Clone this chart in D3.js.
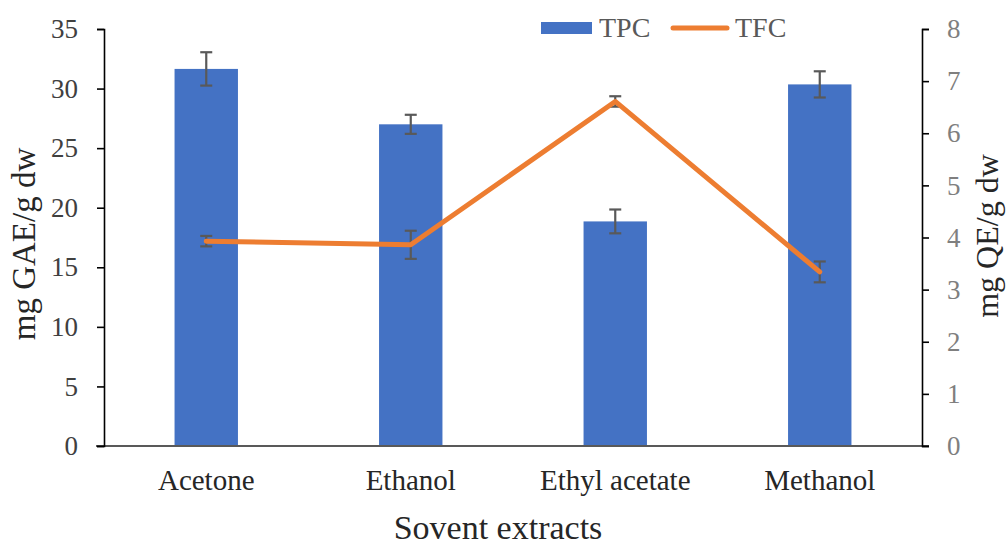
<!DOCTYPE html>
<html><head><meta charset="utf-8">
<script src="https://cdn.jsdelivr.net/npm/d3@7"></script>
<style>body{margin:0;background:#fff}svg text{font-family:"Liberation Serif","DejaVu Serif",serif !important}</style>
</head><body><svg id="c" width="1008" height="548" font-family="Liberation Serif"></svg>
<script>
const categories = ["Acetone","Ethanol","Ethyl acetate","Methanol"];
const tpc = [31.65, 27.0, 18.85, 30.35];
const tpcErr = [1.4, 0.8, 1.0, 1.1];
const tfc = [3.93, 3.86, 6.61, 3.34];
const tfcErr = [0.1, 0.27, 0.1, 0.2];
const leftTicks = [0,5,10,15,20,25,30,35];
const rightTicks = [0,1,2,3,4,5,6,7,8];

const FONT = "Liberation Serif";
const svg = d3.select("#c");
const L = 104, R = 922, T = 29, B = 446;
const x = d3.scaleBand().domain(categories).range([L, R]).paddingInner(0.69).paddingOuter(0.345);
const yL = d3.scaleLinear().domain([0,35]).range([B, T]);
const yR = d3.scaleLinear().domain([0,8]).range([B, T]);
const cx = d => x(d) + x.bandwidth()/2;

// bars
svg.append("g").selectAll("rect").data(categories).join("rect")
  .attr("x", d => x(d)).attr("width", x.bandwidth())
  .attr("y", (d,i) => yL(tpc[i])).attr("height", (d,i) => B - yL(tpc[i]))
  .attr("fill", "#4472c4");

function errBars(vals, errs, sc) {
  const g = svg.append("g").attr("stroke", "#595959").attr("stroke-width", 2.2);
  categories.forEach((c,i) => {
    const xc = cx(c), y1 = sc(vals[i]+errs[i]), y2 = sc(vals[i]-errs[i]);
    g.append("line").attr("x1",xc).attr("x2",xc).attr("y1",y1).attr("y2",y2);
    g.append("line").attr("x1",xc-6).attr("x2",xc+6).attr("y1",y1).attr("y2",y1);
    g.append("line").attr("x1",xc-6).attr("x2",xc+6).attr("y1",y2).attr("y2",y2);
  });
}
errBars(tpc, tpcErr, yL);

// baseline
svg.append("line").attr("x1", 96).attr("x2", 929).attr("y1", B).attr("y2", B)
  .attr("stroke", "#595959").attr("stroke-width", 2);

// left axis
const la = svg.append("g").attr("transform", `translate(${L},0)`)
  .call(d3.axisLeft(yL).tickValues(leftTicks).tickSize(7).tickPadding(19));
la.attr("font-family", FONT);
la.select(".domain").attr("stroke", "#000").attr("stroke-width", 1.6);
la.selectAll(".tick line").attr("stroke", "#000").attr("stroke-width", 1.6);
la.selectAll(".tick text").attr("font-size", 27).attr("fill", "#404040");

// right axis
const ra = svg.append("g").attr("transform", `translate(${R},0)`)
  .call(d3.axisRight(yR).tickValues(rightTicks).tickSize(7).tickPadding(18));
ra.attr("font-family", FONT);
ra.select(".domain").attr("stroke", "#000").attr("stroke-width", 1.6);
ra.selectAll(".tick line").attr("stroke", "#000").attr("stroke-width", 1.6);
ra.selectAll(".tick text").attr("font-size", 27).attr("fill", "#7f7f7f");

// TFC line
errBars(tfc, tfcErr, yR);
svg.append("path").datum(categories)
  .attr("d", d3.line().x(d => cx(d)).y((d,i) => yR(tfc[i])))
  .attr("fill", "none").attr("stroke", "#ed7d31").attr("stroke-width", 5)
  .attr("stroke-linejoin", "round").attr("stroke-linecap", "round");

// category labels
svg.append("g").selectAll("text").data(categories).join("text")
  .attr("font-family", FONT)
  .attr("x", d => cx(d)).attr("y", 490).attr("text-anchor", "middle")
  .attr("font-size", 29).attr("fill", "#262626").text(d => d);

// axis titles
svg.append("text").attr("font-family", FONT).attr("x", 498).attr("y", 539).attr("text-anchor", "middle")
  .attr("font-size", 34).attr("fill", "#262626").text("Sovent extracts");
svg.append("text").attr("font-family", FONT).attr("transform", "translate(35,244) rotate(-90)").attr("text-anchor", "middle")
  .attr("font-size", 33).attr("fill", "#262626").text("mg GAE/g dw");
svg.append("text").attr("font-family", FONT).attr("transform", "translate(998,236) rotate(-90)").attr("text-anchor", "middle")
  .attr("font-size", 32).attr("fill", "#262626").text("mg QE/g dw");

// legend
const lg = svg.append("g").attr("font-family", FONT);
lg.append("rect").attr("x", 541).attr("y", 22).attr("width", 51).attr("height", 12).attr("fill", "#4472c4");
lg.append("text").attr("x", 599).attr("y", 37).attr("font-size", 28).attr("fill", "#595959").text("TPC");
lg.append("line").attr("x1", 673).attr("x2", 727).attr("y1", 28).attr("y2", 28)
  .attr("stroke", "#ed7d31").attr("stroke-width", 5).attr("stroke-linecap", "round");
lg.append("text").attr("x", 735).attr("y", 37).attr("font-size", 28).attr("fill", "#595959").text("TFC");
</script></body></html>
